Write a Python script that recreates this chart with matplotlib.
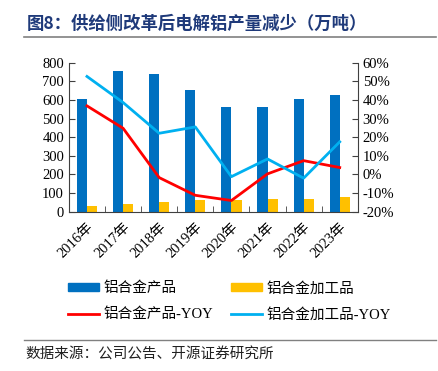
import numpy as np
import matplotlib.pyplot as plt
from matplotlib.lines import Line2D
from matplotlib.patches import Patch

plt.rcParams['font.family'] = ['Liberation Serif', 'Noto Sans CJK SC', 'DejaVu Sans']

years = ['2016年', '2017年', '2018年', '2019年', '2020年', '2021年', '2022年', '2023年']
alloy = [604, 755, 738, 654, 561, 561, 604, 627]
processed = [31, 41, 50, 63, 63, 68, 66, 79]
alloy_yoy = [36.8, 24.8, -1.7, -11.2, -14.0, 0.3, 7.4, 3.7]
processed_yoy = [52.6, 38.6, 22.1, 25.5, -1.2, 8.3, -2.0, 17.5]

cjk = ['Noto Sans CJK SC', 'DejaVu Sans']

fig = plt.figure(figsize=(4.39, 3.71), dpi=100)
ax = fig.add_axes([0.157, 0.4294, 0.658, 0.4017])
ax2 = ax.twinx()

x = np.arange(len(years))
w = 0.28
ax.bar(x - w/2, alloy, w, color='#0070C0', zorder=2)
ax.bar(x + w/2, processed, w, color='#FFC000', zorder=2)
ax2.plot(x, alloy_yoy, color='#FF0000', lw=2)
ax2.plot(x, processed_yoy, color='#00B0F0', lw=2)

ax.set_xlim(-0.5, len(years) - 0.5)
ax.set_ylim(0, 800)
ax.set_yticks(range(0, 801, 100))
ax2.set_ylim(-20, 60)
ax2.set_yticks(range(-20, 61, 10))
ax2.set_yticklabels(['{}%'.format(v) for v in range(-20, 61, 10)])

ax.set_xticks(x)
ax.set_xticklabels(years, rotation=45, ha='right', rotation_mode='anchor', fontsize=10.5)
ax.set_xticks(np.arange(-0.5, len(years), 1), minor=True)
ax.tick_params(axis='x', which='major', length=0, pad=6)
ax.tick_params(axis='x', which='minor', direction='in', length=4, color='#404040')
ax.tick_params(axis='y', direction='in', length=4, labelsize=10.5, color='#404040')
ax2.tick_params(axis='y', direction='in', length=4, labelsize=10.5, color='#404040')

for a in (ax, ax2):
    a.spines['top'].set_visible(False)
    for s in ('left', 'right', 'bottom'):
        a.spines[s].set_color('#404040')
ax.spines['right'].set_visible(False)
ax2.spines['left'].set_visible(False)
ax2.spines['bottom'].set_visible(False)

handles = [Patch(color='#0070C0'), Patch(color='#FFC000'),
           Line2D([], [], color='#FF0000', lw=2), Line2D([], [], color='#00B0F0', lw=2)]
labels = ['铝合金产品', '铝合金加工品', '铝合金产品-YOY', '铝合金加工品-YOY']
leg = fig.legend([handles[0], handles[2], handles[1], handles[3]],
                 [labels[0], labels[2], labels[1], labels[3]],
                 ncol=2, loc='center left', bbox_to_anchor=(0.125, 0.187),
                 frameon=False, handlelength=2.1, handleheight=0.5,
                 columnspacing=1.2, labelspacing=0.85, handletextpad=0.35,
                 prop={'size': 10.5})

fig.text(0.062, 0.935, '图8：供给侧改革后电解铝产量减少（万吨）', family=cjk,
         fontsize=12.5, fontweight='bold', color='#1F3A7A', va='center')
fig.add_artist(Line2D([0.055, 0.993], [0.9, 0.9], color='#808080', lw=1.2,
                      transform=fig.transFigure))
fig.add_artist(Line2D([0.055, 0.993], [0.083, 0.083], color='#808080', lw=1.0,
                      transform=fig.transFigure))
fig.text(0.057, 0.045, '数据来源：公司公告、开源证券研究所', family=cjk,
         fontsize=10.5, color='#202020', va='center')

plt.savefig('out.png', dpi=100)
